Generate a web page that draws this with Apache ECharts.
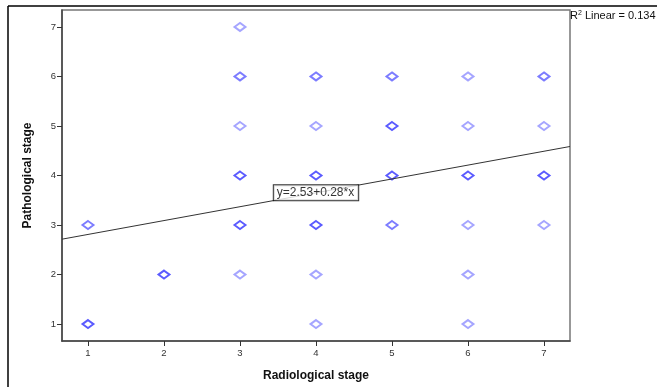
<!DOCTYPE html>
<html>
<head>
<meta charset="utf-8">
<script src="https://cdn.jsdelivr.net/npm/echarts@6/dist/echarts.min.js"></script>
<style>
  html, body { margin: 0; padding: 0; background: #fff; }
  #chart { width: 657px; height: 387px; }
</style>
</head>
<body>
<div id="chart"></div>
<script>
// observed (radiological, pathological) pairs; count = how many cases overlap on that point
const radiological = [1, 1, 2, 3, 3, 3, 3, 3, 3, 4, 4, 4, 4, 4, 4, 5, 5, 5, 5, 6, 6, 6, 6, 6, 6, 7, 7, 7, 7];
const pathological = [1, 3, 2, 2, 3, 4, 5, 6, 7, 1, 2, 3, 4, 5, 6, 3, 4, 5, 6, 1, 2, 3, 4, 5, 6, 3, 4, 5, 6];
const counts       = [3, 2, 3, 1, 3, 3, 1, 2, 1, 1, 1, 3, 3, 1, 2, 2, 3, 3, 2, 1, 1, 1, 3, 1, 1, 1, 3, 1, 2];
const tickValues = [1, 2, 3, 4, 5, 6, 7];

// linear fit from the picture: y = 2.53 + 0.28 * x
const intercept = 2.53;
const slope = 0.28;
const rSquared = '0.134';

const axisMin = 0.658;
const axisMax = 7.342;

const chart = echarts.init(document.getElementById('chart'), null, { renderer: 'canvas' });

const points = radiological.map((x, i) => ({
  value: [x, pathological[i]],
  itemStyle: {
    opacity: counts[i] === 1 ? 0.55 : counts[i] === 2 ? 0.8 : 1,
    borderWidth: counts[i] === 1 ? 1 : 1.6,
  },
}));

const fitLine = [axisMin, axisMax].map(x => [x, intercept + slope * x]);
const labelX = 4;

const font = 'Liberation Sans, Arial, sans-serif';
const tickLabelStyle = { color: '#333', fontSize: 9.5, fontFamily: font };

const option = {
  animation: false,
  backgroundColor: '#fff',
  grid: {
    left: 62,
    right: 87,
    top: 10,
    bottom: 42,
    show: true,
    borderColor: '#777',
    borderWidth: 1.5,
  },
  xAxis: {
    type: 'value',
    min: axisMin,
    max: axisMax,
    name: 'Radiological stage',
    nameLocation: 'middle',
    nameGap: 29,
    nameTextStyle: { color: '#111', fontSize: 12, fontWeight: 'bold', fontFamily: font },
    splitLine: { show: false },
    axisLine: { show: true, lineStyle: { color: '#444', width: 1.5 } },
    axisTick: { show: true, length: 5, customValues: tickValues, lineStyle: { color: '#333' } },
    axisLabel: { ...tickLabelStyle, customValues: tickValues, margin: 7 },
  },
  yAxis: {
    type: 'value',
    min: axisMin,
    max: axisMax,
    name: 'Pathological stage',
    nameLocation: 'middle',
    nameGap: 28,
    nameTextStyle: { color: '#111', fontSize: 12, fontWeight: 'bold', fontFamily: font },
    splitLine: { show: false },
    axisLine: { show: true, lineStyle: { color: '#444', width: 1.5 } },
    axisTick: { show: true, length: 5, customValues: tickValues, lineStyle: { color: '#333' } },
    axisLabel: { ...tickLabelStyle, customValues: tickValues, margin: 6 },
  },
  series: [
    {
      type: 'scatter',
      symbol: 'emptyDiamond',
      symbolSize: [11, 8],
      itemStyle: { color: '#5b5bff', borderColor: '#5b5bff' },
      data: points,
      z: 3,
    },
    {
      type: 'line',
      data: fitLine,
      showSymbol: false,
      symbol: 'none',
      lineStyle: { color: '#333', width: 1 },
      z: 4,
    },
    {
      // equation box sitting on the fit line
      type: 'scatter',
      symbol: 'rect',
      symbolSize: 2,
      itemStyle: { color: 'rgba(0,0,0,0)' },
      data: [[labelX, intercept + slope * labelX]],
      label: {
        show: true,
        position: 'inside',
        offset: [0, 3],
        formatter: 'y=2.53+0.28*x',
        color: '#000',
        fontSize: 12,
        fontFamily: font,
        backgroundColor: '#fff',
        borderColor: '#000',
        borderWidth: 1,
        padding: [2, 4, 1, 3],
      },
      labelLayout: { hideOverlap: false },
      z: 5,
    },
  ],
  graphic: [
    { type: 'line', shape: { x1: 8, y1: 6, x2: 657, y2: 6 }, style: { stroke: '#000', lineWidth: 1.5 } },
    { type: 'line', shape: { x1: 8, y1: 6, x2: 8, y2: 387 }, style: { stroke: '#000', lineWidth: 1.5 } },
    {
      type: 'text',
      left: 570,
      top: 10,
      style: {
        text: '{b|R}{s|2}{b| Linear = ' + rSquared + '}',
        rich: {
          b: { fontSize: 11, fill: '#111', fontFamily: font, verticalAlign: 'bottom' },
          s: { fontSize: 7, fill: '#111', fontFamily: font, verticalAlign: 'top' },
        },
      },
    },
  ],
};

chart.setOption(option);
</script>
</body>
</html>
